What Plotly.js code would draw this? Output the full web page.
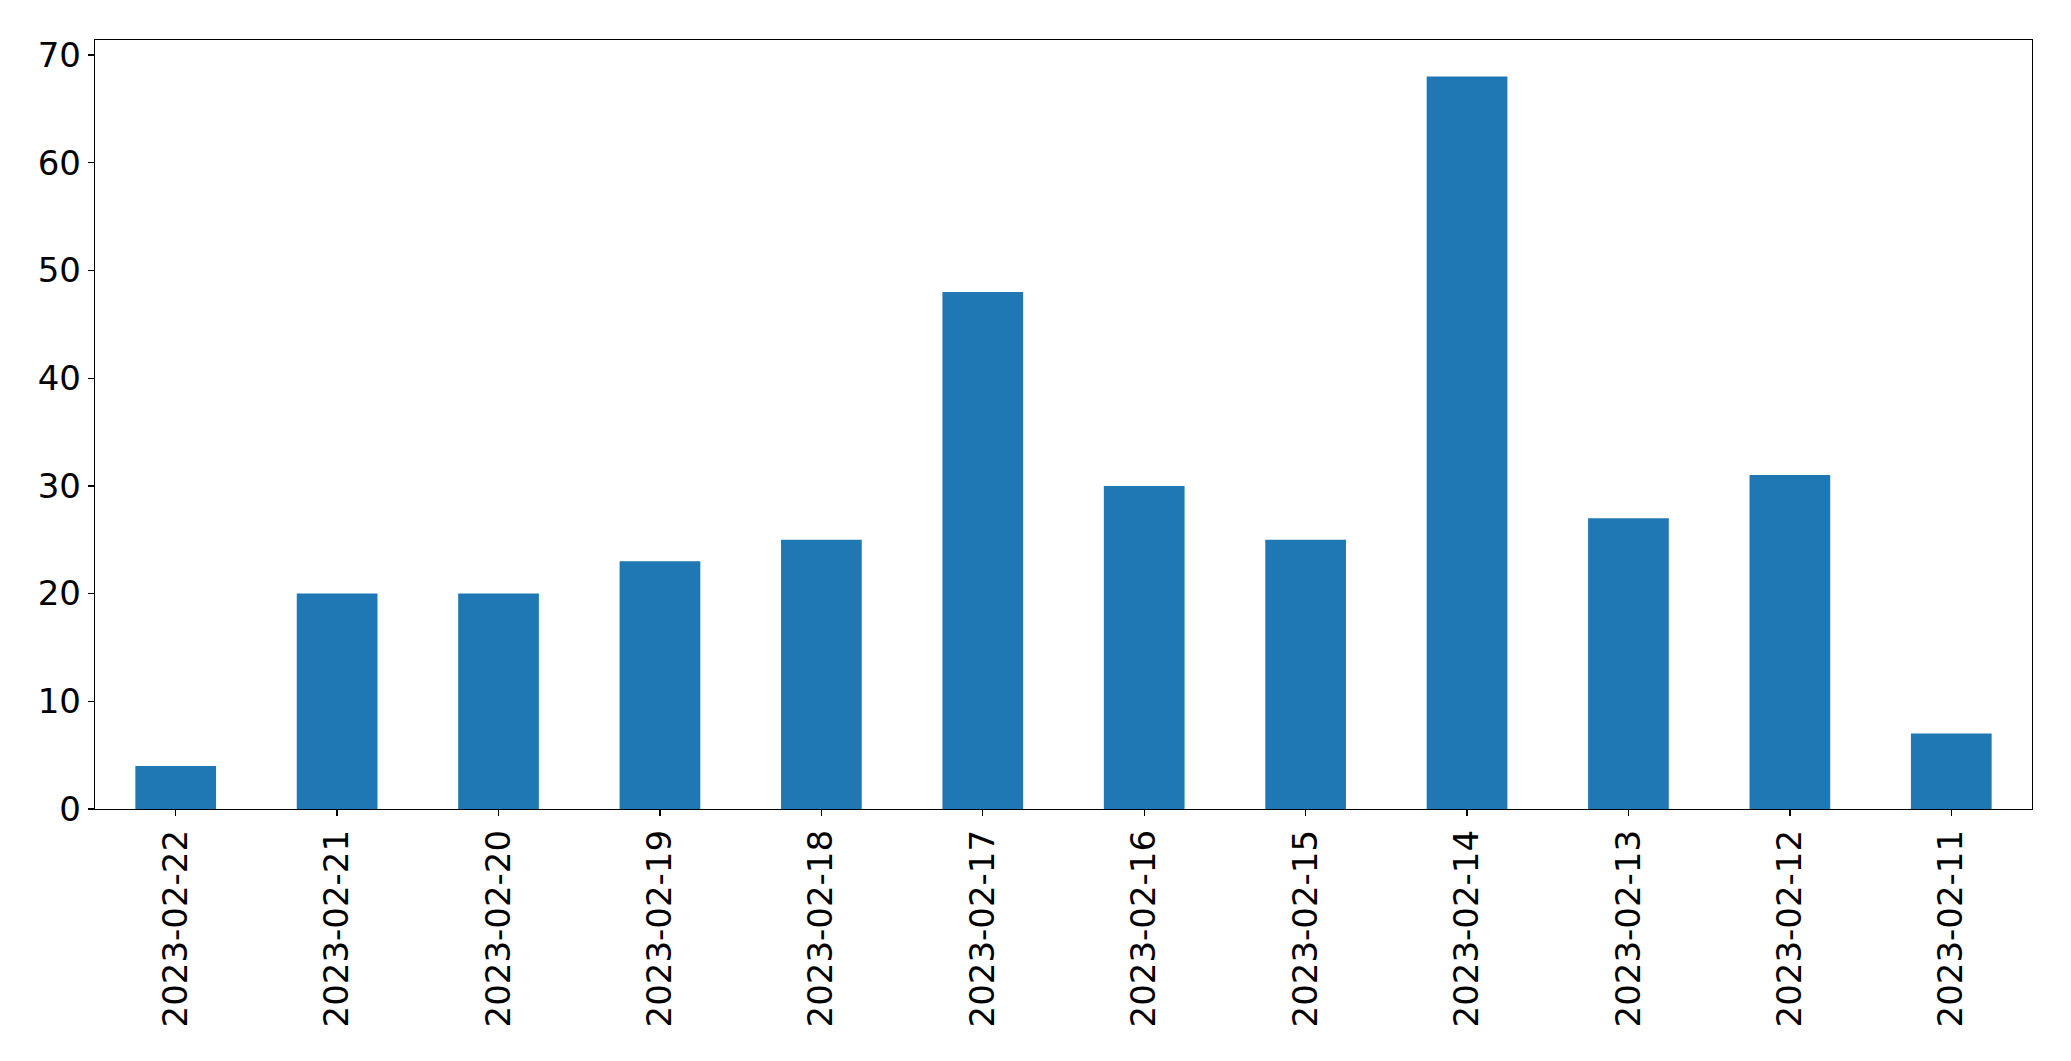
<!DOCTYPE html>
<html>
<head>
<meta charset="utf-8">
<script src="https://cdn.plot.ly/plotly-3.0.1.min.js"></script>
<style>html,body{margin:0;padding:0;background:#fff;}#chart{width:2071px;height:1061px;}</style>
</head>
<body>
<div id="chart"></div>
<script>
const dates = ["2023-02-22","2023-02-21","2023-02-20","2023-02-19","2023-02-18","2023-02-17","2023-02-16","2023-02-15","2023-02-14","2023-02-13","2023-02-12","2023-02-11"];
const counts = [4, 20, 20, 23, 25, 48, 30, 25, 68, 27, 31, 7];
const yTicks = [0, 10, 20, 30, 40, 50, 60, 70];

const trace = {
  type: 'bar',
  x: dates,
  y: counts,
  width: 0.5,
  marker: {color: '#1f77b4', line: {width: 0}},
  hoverinfo: 'x+y'
};

const font = {family: 'DejaVu Sans, sans-serif', size: 34, color: '#000'};

const layout = {
  width: 2071,
  height: 1061,
  margin: {l: 94.5, r: 39.3, t: 39.5, b: 252},
  paper_bgcolor: '#fff',
  plot_bgcolor: '#fff',
  showlegend: false,
  font: font,
  xaxis: {
    type: 'category',
    range: [-0.5, 11.5],
    tickangle: -90,
    ticks: 'outside',
    ticklen: 6,
    tickwidth: 1.3,
    tickcolor: '#000',
    showline: true,
    linecolor: '#000',
    linewidth: 1.3,
    mirror: true,
    showgrid: false,
    zeroline: false,
    tickfont: font,
    automargin: false
  },
  yaxis: {
    range: [0, 71.4],
    tickvals: yTicks,
    ticktext: yTicks.map(String),
    ticks: 'outside',
    ticklen: 6,
    tickwidth: 1.3,
    tickcolor: '#000',
    showline: true,
    linecolor: '#000',
    linewidth: 1.3,
    mirror: true,
    showgrid: false,
    zeroline: false,
    tickfont: font,
    automargin: false
  }
};

Plotly.newPlot('chart', [trace], layout, {displayModeBar: false, staticPlot: true});
</script>
</body>
</html>
